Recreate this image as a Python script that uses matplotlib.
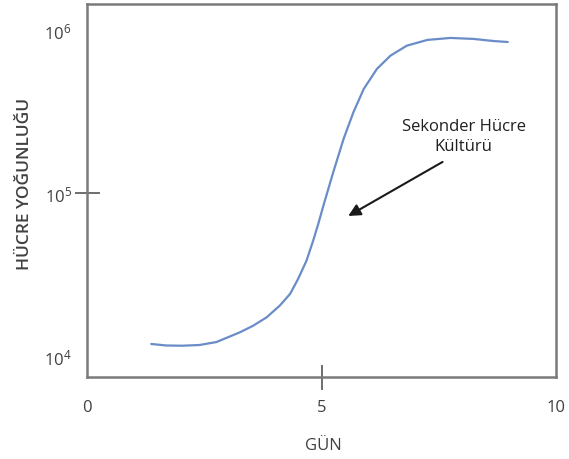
import numpy as np
import matplotlib
matplotlib.use('Agg')
import matplotlib.pyplot as plt
from matplotlib.ticker import NullFormatter

plt.rcParams['font.family'] = ['Open Sans', 'DejaVu Sans']
plt.rcParams['mathtext.fontset'] = 'custom'
plt.rcParams['mathtext.rm'] = 'Open Sans'

# gun / hucre yogunlugu
gun = [1.37, 1.69, 2.03, 2.40, 2.76, 3.26, 3.54, 3.83, 4.11, 4.33, 4.50, 4.68,
       4.82, 4.93, 5.04, 5.25, 5.47, 5.68, 5.90, 6.18, 6.47, 6.82, 7.26, 7.75,
       8.24, 8.67, 8.97]
yogunluk = [11860, 11610, 11570, 11690, 12190, 13990, 15350, 17300, 20420, 24100,
            29790, 38600, 51050, 64860, 84140, 135100, 216400, 316000, 439500,
            583500, 704700, 812200, 881000, 905700, 893300, 867000, 855000]

x_ticks = [0, 5, 10]
x_labels = ['0', '5', '10']
y_ticks = [1e4, 1e5, 1e6]
y_labels = [r'$\mathregular{10^{4}}$', r'$\mathregular{10^{5}}$', r'$\mathregular{10^{6}}$']

fig = plt.figure(figsize=(5.69, 4.60), dpi=100)
ax = fig.add_axes([0.1529, 0.1783, 0.8243, 0.8109])

ax.plot(gun, yogunluk, color='#6a8cc7', linewidth=1.6, solid_capstyle='round',
        solid_joinstyle='round')
ax.set_yscale('log')
ax.set_xlim(0, 10)
ax.set_ylim(10**3.871, 10**6.166)

ax.set_xticks(x_ticks)
ax.set_xticklabels(x_labels)
ax.set_yticks(y_ticks)
ax.set_yticklabels(y_labels)
ax.set_xticks([5], minor=True)
ax.set_yticks([1e5], minor=True)
ax.xaxis.remove_overlapping_locs = False
ax.yaxis.remove_overlapping_locs = False
ax.yaxis.set_minor_formatter(NullFormatter())
ax.xaxis.set_minor_formatter(NullFormatter())

ax.tick_params(which='major', length=0, labelsize=12, labelcolor='#404040')
ax.tick_params(axis='x', which='major', pad=16)
ax.tick_params(axis='y', which='major', pad=11)
ax.tick_params(which='minor', direction='inout', length=18, width=1.2, color='#555555')

for s in ax.spines.values():
    s.set_color('#7a7a7a')
    s.set_linewidth(1.8)

ax.set_xlabel('GÜN', fontsize=12, color='#404040')
ax.set_ylabel('HÜCRE YOĞUNLUĞU', fontsize=12.5, color='#404040', fontweight='semibold')
ax.xaxis.set_label_coords(0.503, -0.161)
ax.yaxis.set_label_coords(-0.115, 0.52)

ax.annotate('', xy=(5.57, 72700), xytext=(7.58, 156300),
            arrowprops=dict(arrowstyle='-|>', color='#1a1a1a', lw=1.5, mutation_scale=18,
                            shrinkA=0, shrinkB=0))
ax.text(8.03, 226000, 'Sekonder Hücre\nKültürü', ha='center', va='center',
        fontsize=12, color='#1f1f1f', linespacing=1.4)

fig.savefig('out.png', dpi=100)
